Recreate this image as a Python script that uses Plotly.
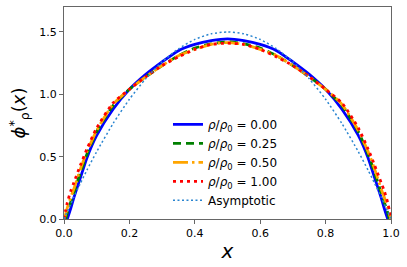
import plotly.graph_objects as go

x_vals = [0.0, 0.005, 0.01, 0.02, 0.03, 0.05, 0.07, 0.1, 0.15, 0.2, 0.25, 0.3, 0.35, 0.4, 0.45, 0.5,
          0.55, 0.6, 0.65, 0.7, 0.75, 0.8, 0.85, 0.9, 0.93, 0.95, 0.97, 0.98, 0.99, 0.995, 1.0]

phi_rho_000 = [None, None, 0.0, 0.08, 0.17, 0.33, 0.49, 0.67, 0.88, 1.04, 1.16, 1.26, 1.35, 1.40, 1.43, 1.445,
               1.43, 1.40, 1.35, 1.26, 1.16, 1.04, 0.88, 0.67, 0.49, 0.33, 0.17, 0.08, 0.0, None, None]
phi_rho_025 = [None, 0.0, 0.05, 0.13, 0.21, 0.37, 0.52, 0.70, 0.91, 1.04, 1.14, 1.23, 1.31, 1.37, 1.405, 1.42,
               1.405, 1.37, 1.31, 1.23, 1.14, 1.04, 0.91, 0.70, 0.52, 0.37, 0.21, 0.13, 0.05, 0.0, None]
phi_rho_050 = [0.0, 0.04, 0.09, 0.17, 0.24, 0.40, 0.54, 0.71, 0.92, 1.04, 1.14, 1.23, 1.31, 1.36, 1.40, 1.415,
               1.40, 1.36, 1.31, 1.23, 1.14, 1.04, 0.92, 0.71, 0.54, 0.40, 0.24, 0.17, 0.09, 0.04, 0.0]
phi_rho_100 = [0.0, 0.07, 0.13, 0.22, 0.29, 0.43, 0.56, 0.73, 0.93, 1.04, 1.14, 1.23, 1.30, 1.36, 1.40, 1.41,
               1.40, 1.36, 1.30, 1.23, 1.14, 1.04, 0.93, 0.73, 0.56, 0.43, 0.29, 0.22, 0.13, 0.07, 0.0]
phi_asym = [0.0, 0.03, 0.059, 0.118, 0.175, 0.285, 0.391, 0.54, 0.765, 0.96, 1.125, 1.26, 1.365, 1.44, 1.485, 1.5,
            1.485, 1.44, 1.365, 1.26, 1.125, 0.96, 0.765, 0.54, 0.391, 0.285, 0.175, 0.118, 0.059, 0.03, 0.0]

x_ticks = [0.0, 0.2, 0.4, 0.6, 0.8, 1.0]
y_ticks = [0.0, 0.5, 1.0, 1.5]

series = [
    ("<i>ρ</i>/<i>ρ</i><sub>0</sub> = 0.00", phi_rho_000, "#0000ff", "solid", 2.8),
    ("<i>ρ</i>/<i>ρ</i><sub>0</sub> = 0.25", phi_rho_025, "#008000", "8px,5px", 2.8),
    ("<i>ρ</i>/<i>ρ</i><sub>0</sub> = 0.50", phi_rho_050, "#ffa500", "15px,4px,2.5px,4px", 2.8),
    ("<i>ρ</i>/<i>ρ</i><sub>0</sub> = 1.00", phi_rho_100, "#ff0000", "3px,4px", 2.8),
    ("Asymptotic", phi_asym, "#2a85d0", "2px,2.5px", 1.5),
]

fig = go.Figure()
for name, ys, color, dash, width in series:
    fig.add_trace(go.Scatter(x=x_vals, y=ys, mode="lines", name=name,
                             line=dict(color=color, dash=dash, width=width, shape="spline", smoothing=0.6),
                             connectgaps=False))

axis_common = dict(showgrid=False, zeroline=False, showline=True, mirror=True,
                   linecolor="#666666", linewidth=1, ticks="outside", ticklen=4,
                   tickcolor="#666666", tickformat=".1f", automargin=False,
                   tickfont=dict(family="DejaVu Sans", size=11, color="#000000"))

fig.update_layout(
    width=407, height=267,
    margin=dict(l=64, r=16, t=7, b=48),
    paper_bgcolor="white", plot_bgcolor="white",
    font=dict(family="DejaVu Sans", color="#000000"),
    xaxis=dict(range=[0, 1], tickvals=x_ticks,
               title=dict(text="<i>x</i>", font=dict(size=20), standoff=4), **axis_common),
    yaxis=dict(range=[0, 1.7], tickvals=y_ticks,
               title=dict(text="<i>ϕ</i><sup>*</sup><sub>ρ</sub>(<i>x</i>)", font=dict(size=18), standoff=8),
               **axis_common),
    showlegend=True,
    legend=dict(x=0.318, y=0.515, xanchor="left", yanchor="top",
                bgcolor="rgba(255,255,255,0)", borderwidth=0,
                font=dict(family="DejaVu Sans", size=12), tracegroupgap=0),
)

fig.write_html("out.html", config={"displayModeBar": False},
               post_script="document.body.style.margin='0';document.body.style.overflow='hidden';")
